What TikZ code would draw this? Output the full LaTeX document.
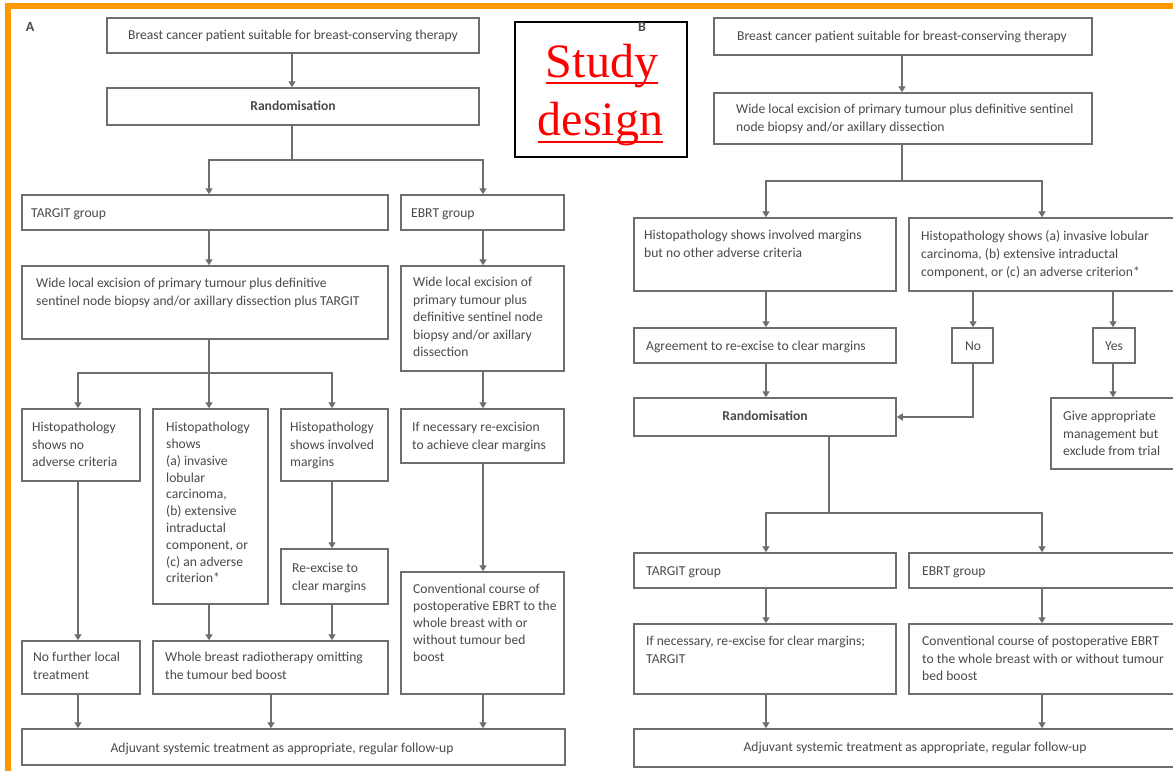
\documentclass[tikz,border=0pt]{standalone}
\usepackage{fontspec}
\setmainfont{Carlito}
\newfontfamily\timesx{Liberation Serif}
\usetikzlibrary{arrows.meta,fit}
\definecolor{orng}{HTML}{FF9900}
\definecolor{lineg}{HTML}{6E6E6E}
\definecolor{textg}{HTML}{4A4A4A}
\begin{document}
\begin{tikzpicture}[x=1pt,y=-1pt,
 box/.style={draw=lineg,line width=1.5pt,fill=white,inner sep=0pt},
 txt/.style={text=textg,font=\fontsize{13.6}{17.5}\selectfont,align=left,anchor=north west,inner sep=0pt,execute at begin node={\rule{0pt}{10.5pt}}},
 ctxt/.style={text=textg,font=\fontsize{13.6}{17.5}\selectfont,inner sep=0pt},
 ln/.style={draw=lineg,line width=1.4pt},
 arr/.style={ln,-{Triangle[width=7pt,length=6pt]}},
 ]
\useasboundingbox (0,0) rectangle (1173,771);
\clip (0,0) rectangle (1173,771);
\fill[white] (0,0) rectangle (1173,771);
% orange frame
\draw[orng,line width=6pt] (5,6) -- (1180,6);
\draw[orng,line width=6pt] (8,3) -- (8,780);

% ---------------- Panel A boxes
\node[box,fit={(107,18)(479,53)}] (a1) {};
\node[box,fit={(107,88)(479,125)}] (a2) {};
\node[box,fit={(22,195)(388,230)}] (a3) {};
\node[box,fit={(401,195)(564,230)}] (a4) {};
\node[box,fit={(22,266)(388,339)}] (a5) {};
\node[box,fit={(401,266)(564,371)}] (a6) {};
\node[box,fit={(22,409)(140,481)}] (a7) {};
\node[box,fit={(153,409)(268,604)}] (a8) {};
\node[box,fit={(281,409)(388,481)}] (a9) {};
\node[box,fit={(401,409)(564,463)}] (a10) {};
\node[box,fit={(281,549)(388,604)}] (a11) {};
\node[box,fit={(401,572)(564,694)}] (a12) {};
\node[box,fit={(22,641)(140,694)}] (a13) {};
\node[box,fit={(153,641)(388,694)}] (a14) {};
\node[box,fit={(22,729)(565,765)}] (a15) {};

% ---------------- Panel A connectors
\draw[arr] (292,0 |- a1.south) -- (292,0 |- a2.north);
\coordinate (ja1) at (292,160);
\draw[ln] (292,0 |- a2.south) -- (ja1);
\draw[arr] (ja1) -- (209,160) -- (209,0 |- a3.north);
\draw[arr] (ja1) -- (483,160) -- (483,0 |- a4.north);
\draw[arr] (209,0 |- a3.south) -- (209,0 |- a5.north);
\coordinate (ja2) at (209,373);
\draw[ln] (209,0 |- a5.south) -- (ja2);
\draw[arr] (ja2) -- (78,373) -- (78,0 |- a7.north);
\draw[arr] (ja2) -- (209,0 |- a8.north);
\draw[arr] (ja2) -- (332,373) -- (332,0 |- a9.north);
\draw[arr] (483,0 |- a4.south) -- (483,0 |- a6.north);
\draw[arr] (483,0 |- a6.south) -- (483,0 |- a10.north);
\draw[arr] (483,0 |- a10.south) -- (483,0 |- a12.north);
\draw[arr] (332,0 |- a9.south) -- (332,0 |- a11.north);
\draw[arr] (78,0 |- a7.south) -- (78,0 |- a13.north);
\draw[arr] (209,0 |- a8.south) -- (209,0 |- a14.north);
\draw[arr] (332,0 |- a11.south) -- (332,0 |- a14.north);
\draw[arr] (78,0 |- a13.south) -- (78,0 |- a15.north);
\draw[arr] (271,0 |- a14.south) -- (271,0 |- a15.north);
\draw[arr] (483,0 |- a12.south) -- (483,0 |- a15.north);

% ---------------- Panel A texts
\node[ctxt] (a1t) at (293,36) {Breast cancer patient suitable for breast-conserving therapy};
\node[ctxt,font=\bfseries\fontsize{13.6}{17.5}\selectfont] (a2t) at (293,106) {Randomisation};
\node[txt] (a3t) at (31,207) {TARGIT group};
\node[txt] (a4t) at (411,207) {EBRT group};
\node[txt] (a5t) at (36,278) {Wide local excision of primary tumour plus definitive\\sentinel node biopsy and/or axillary dissection plus TARGIT};
\node[txt] (a6t) at (413,277) {Wide local excision of\\primary tumour plus\\definitive sentinel node\\biopsy and/or axillary\\dissection};
\node[txt] (a7t) at (32,422) {Histopathology\\shows no\\adverse criteria};
\node[txt,font=\fontsize{13.6}{16.8}\selectfont] (a8t) at (166,422) {Histopathology\\shows\\(a) invasive\\lobular\\carcinoma,\\(b) extensive\\intraductal\\component, or\\(c) an adverse\\criterion*};
\node[txt] (a9t) at (290,422) {Histopathology\\shows involved\\margins};
\node[txt] (a10t) at (412,422) {If necessary re-excision\\to achieve clear margins};
\node[txt] (a11t) at (292,563) {Re-excise to\\clear margins};
\node[txt,font=\fontsize{13.6}{17}\selectfont] (a12t) at (413,584) {Conventional course of\\postoperative EBRT to the\\whole breast with or\\without tumour bed\\boost};
\node[txt] (a13t) at (33,652) {No further local\\treatment};
\node[txt] (a14t) at (165,652) {Whole breast radiotherapy omitting\\the tumour bed boost};
\node[ctxt] (a15t) at (282,749) {Adjuvant systemic treatment as appropriate, regular follow-up};

% ---------------- Panel B boxes
\node[box,fit={(714,18)(1092,55)}] (b1) {};
\node[box,fit={(714,93)(1092,144)}] (b2) {};
\node[box,fit={(634,218)(896,291)}] (b3) {};
\node[box,fit={(909,218)(1185,291)}] (b4) {};
\node[box,fit={(634,328)(896,363)}] (b5) {};
\node[box,fit={(952,328)(993,363)}] (b6) {};
\node[box,fit={(1093,328)(1135,363)}] (b7) {};
\node[box,fit={(634,398)(896,436)}] (b8) {};
\node[box,fit={(1051,398)(1185,469)}] (b9) {};
\node[box,fit={(634,553)(896,588)}] (b10) {};
\node[box,fit={(909,553)(1185,588)}] (b11) {};
\node[box,fit={(634,624)(896,694)}] (b12) {};
\node[box,fit={(909,624)(1185,694)}] (b13) {};
\node[box,fit={(634,729)(1185,767)}] (b14) {};

% ---------------- Panel B connectors
\draw[arr] (902,0 |- b1.south) -- (902,0 |- b2.north);
\coordinate (jb1) at (902,181);
\draw[ln] (902,0 |- b2.south) -- (jb1);
\draw[arr] (jb1) -- (766,181) -- (766,0 |- b3.north);
\draw[arr] (jb1) -- (1042,181) -- (1042,0 |- b4.north);
\draw[arr] (766,0 |- b3.south) -- (766,0 |- b5.north);
\draw[arr] (766,0 |- b5.south) -- (766,0 |- b8.north);
\draw[arr] (973,0 |- b4.south) -- (973,0 |- b6.north);
\draw[arr] (1113,0 |- b4.south) -- (1113,0 |- b7.north);
\draw[arr] (973,0 |- b6.south) -- (973,417) -- (b8.east |- 0,417);
\draw[arr] (1113,0 |- b7.south) -- (1113,0 |- b9.north);
\coordinate (jb2) at (829,513);
\draw[ln] (829,0 |- b8.south) -- (jb2);
\draw[arr] (jb2) -- (766,513) -- (766,0 |- b10.north);
\draw[arr] (jb2) -- (1042,513) -- (1042,0 |- b11.north);
\draw[arr] (766,0 |- b10.south) -- (766,0 |- b12.north);
\draw[arr] (1042,0 |- b11.south) -- (1042,0 |- b13.north);
\draw[arr] (766,0 |- b12.south) -- (766,0 |- b14.north);
\draw[arr] (1042,0 |- b13.south) -- (1042,0 |- b14.north);

% ---------------- Panel B texts
\node[ctxt] (b1t) at (902,37) {Breast cancer patient suitable for breast-conserving therapy};
\node[txt] (b2t) at (736,104) {Wide local excision of primary tumour plus definitive sentinel\\node biopsy and/or axillary dissection};
\node[txt] (b3t) at (644,230) {Histopathology shows involved margins\\but no other adverse criteria};
\node[txt,font=\fontsize{13.6}{18}\selectfont] (b4t) at (921,230) {Histopathology shows (a) invasive lobular\\carcinoma, (b) extensive intraductal\\component, or (c) an adverse criterion*};
\node[txt] (b5t) at (646,340) {Agreement to re-excise to clear margins};
\node[ctxt] (b6t) at (973,346) {No};
\node[ctxt] (b7t) at (1114,346) {Yes};
\node[ctxt,font=\bfseries\fontsize{13.6}{17.5}\selectfont] (b8t) at (765,416) {Randomisation};
\node[txt] (b9t) at (1063,411) {Give appropriate\\management but\\exclude from trial};
\node[txt] (b10t) at (646,565) {TARGIT group};
\node[txt] (b11t) at (922,565) {EBRT group};
\node[txt] (b12t) at (646,636) {If necessary, re-excise for clear margins;\\TARGIT};
\node[txt] (b13t) at (922,636) {Conventional course of postoperative EBRT\\to the whole breast with or without tumour\\bed boost};
\node[ctxt] (b14t) at (915,748) {Adjuvant systemic treatment as appropriate, regular follow-up};

% ---------------- Study design box and panel labels
\node[draw=black,line width=1.3pt,fill=white,inner sep=0pt,fit={(515,22)(687,157)}] (sd) {};
\node[text=red,font=\timesx\fontsize{48}{48}\selectfont,inner sep=0pt,anchor=base] (st) at (602,77) {Study};
\draw[red,line width=1.8pt] ([yshift=-6pt]st.base west) -- ([yshift=-6pt]st.base east);
\node[text=red,font=\timesx\fontsize{48}{48}\selectfont,inner sep=0pt,anchor=base] (sg) at (600.5,135) {design};
\draw[red,line width=1.8pt] ([yshift=-7pt]sg.base west) -- ([yshift=-7pt]sg.base east);
\node[text=textg,font=\bfseries\fontsize{14}{14}\selectfont,inner sep=0pt] (la) at (30,27) {A};
\node[text=textg,font=\bfseries\fontsize{14}{14}\selectfont,inner sep=0pt] (lb) at (642,27) {B};
\end{tikzpicture}
\end{document}
